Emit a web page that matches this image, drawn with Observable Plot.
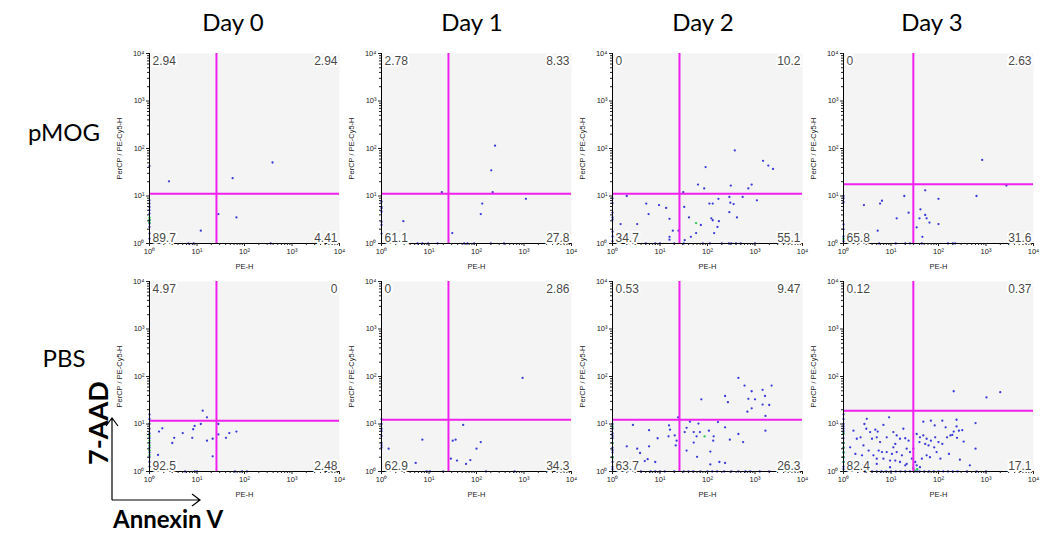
<!DOCTYPE html>
<html><head><meta charset="utf-8">
<script src="https://cdn.jsdelivr.net/npm/d3@7"></script>
<script src="https://cdn.jsdelivr.net/npm/@observablehq/plot@0.6"></script>
<style>
body{margin:0;background:#fff;}
#fig{position:relative;width:1040px;height:535px;overflow:hidden;font-family:Lato,"Open Sans",sans-serif;}
.panel{position:absolute;}
.lab{position:absolute;white-space:nowrap;color:#000;line-height:1;}
</style></head><body><div id="fig"></div>
<script>
// ---- data (log10 exponents) ----
const days = ["Day 0","Day 1","Day 2","Day 3"];
const groups = ["pMOG","PBS"];
const gateX = [[1.41,1.41,1.41,1.47],[1.41,1.41,1.41,1.47]];
const gateY = [[1.05,1.05,1.05,1.25],[1.07,1.09,1.09,1.28]];
const quadUL = [["2.94","2.78","0","0"],["4.97","0","0.53","0.12"]];
const quadUR = [["2.94","8.33","10.2","2.63"],["0","2.86","9.47","0.37"]];
const quadLL = [["89.7","61.1","34.7","65.8"],["92.5","62.9","63.7","82.4"]];
const quadLR = [["4.41","27.8","55.1","31.6"],["2.48","34.3","26.3","17.1"]];
const tickExp = [0,1,2,3,4];

const pMOG_d0 = [[0.41,1.31],[1.75,1.375],[2.59,1.705],[1.45,0.62],[1.83,0.55],[1.08,0.27]];
const pMOG_d0_left = [1.63,0.91,0.84,0.77,0.7,0.63,0.49,0.42,0.35,0.21,0.1];
const pMOG_d0_bottom = [0.82,0.93,2.55];
const pMOG_d0_green = [[0,0.5],[0,0.45],[0,0.55]];

const pMOG_d1 = [[2.39,2.06],[2.31,1.54],[2.34,1.08],[1.27,1.08],[3.04,0.94],[2.12,0.84],[2.09,0.62],[0.46,0.47],[1.49,0.22]];
const pMOG_d1_left = [0.88,0.77,0.74,0.67,0.46,0.39,0.21];
const pMOG_d1_bottom = [0.76,0.86,0.98,1.18,1.74,1.81,1.95,2.3,2.58];
const pMOG_d1_green = [];

const pMOG_d2 = [[2.575,1.96],[1.96,1.61],[3.17,1.74],[3.28,1.64],[3.38,1.57],[1.80,1.24],[1.93,1.16],[2.49,1.22],[2.86,1.16],[2.93,1.24],[1.49,1.08],[0.30,1.00],[2.46,0.98],[2.74,0.98],[3.04,0.91],[0.71,0.84],[0.98,0.81],[2.48,0.86],[2.55,0.83],[2.04,0.84],[2.11,0.84],[2.23,0.94],[1.51,0.77],[0.76,0.62],[1.13,0.75],[1.20,0.52],[1.61,0.55],[2.08,0.53],[2.11,0.49],[2.46,0.66],[2.62,0.55],[2.24,0.47],[1.86,0.39],[0.17,0.41],[0.52,0.41],[1.27,0.27],[1.39,0.27],[1.20,0.14],[1.20,0.08],[1.52,0.07],[1.65,0.14],[1.76,0.22],[2.14,0.22],[2.21,0.35]];
const pMOG_d2_left = [0.95,0.85,0.65,0.55,0.5,0.25,0.15,0.05];
const pMOG_d2_bottom = [0.7,0.9,1.0,1.3,1.5,1.9,2.05,2.3,2.45,2.5,2.6,2.7,3.0];
const pMOG_d2_green = [[1.76,0.43]];

const pMOG_d3 = [[2.92,1.76],[3.43,1.22],[2.80,1.00],[1.72,1.12],[2.0,0.94],[1.28,1.00],[0.81,0.90],[0.77,0.84],[0.43,0.81],[1.37,0.65],[1.62,0.72],[1.72,0.60],[1.75,0.53],[1.60,0.53],[1.12,0.53],[1.81,0.44],[2.0,0.41],[1.54,0.34],[0.72,0.27],[1.66,0.14]];
const pMOG_d3_left = [1.0,0.95,0.87,0.4,0.3,0.15,0.05];
const pMOG_d3_bottom = [0.75,1.1,1.3,1.4,1.65,2.2,2.3,2.35];
const pMOG_d3_green = [[0,0.1]];

const PBS_d0 = [[1.12,1.28],[1.21,1.14],[1.08,1.00],[0.95,0.96],[0.92,0.89],[0.27,0.91],[0.20,0.84],[0.70,0.81],[0.52,0.71],[0.48,0.60],[0.90,0.71],[1.21,0.65],[1.33,0.69],[1.33,0.32],[1.45,1.00],[1.45,0.78],[1.68,0.81],[1.61,0.71],[1.83,0.84],[0.18,0.35]];
const PBS_d0_left = [1.2,1.1,1.0,0.9,0.8,0.7,0.6,0.5,0.4,0.3,0.2,0.1];
const PBS_d0_bottom = [0.75,0.95,1.0,1.8,1.95,2.05];
const PBS_d0_green = [[0,0.75],[0,0.65],[0,0.55],[0,0.45],[0,0.35]];

const PBS_d1 = [[2.97,1.97],[1.72,0.98],[0.86,0.67],[1.50,0.65],[1.56,0.67],[2.09,0.62],[2.0,0.48],[0.15,0.48],[1.46,0.27],[1.59,0.23],[1.87,0.24],[1.78,0.16],[0.72,0.18]];
const PBS_d1_left = [1.1,1.0,0.9,0.85,0.75,0.6,0.55,0.5];
const PBS_d1_bottom = [0.95,1.02,1.3,2.2,2.8];
const PBS_d1_green = [];

const PBS_d2 = [[2.65,1.97],[2.78,1.81],[2.93,1.69],[3.16,1.72],[3.35,1.81],[2.37,1.59],[2.86,1.53],[3.00,1.52],[3.21,1.59],[1.87,1.52],[2.43,1.46],[3.16,1.41],[3.30,1.40],[2.93,1.33],[2.84,1.26],[3.22,1.17],[1.38,1.14],
  [0.43,0.98],[0.77,0.87],[0.95,0.70],[1.19,0.97],[1.21,0.88],[1.18,0.74],[1.31,0.76],[1.35,0.65],[1.33,0.55],[1.52,0.83],[1.56,0.92],[1.63,1.05],[1.81,1.01],[1.71,0.83],[1.84,0.83],[1.77,0.74],[1.71,0.61],[2.03,0.86],[2.13,0.74],[2.12,0.65],[2.22,1.04],[2.37,0.93],[2.47,0.67],[2.65,0.79],[2.75,0.62],[3.22,0.86],[0.30,0.53],[0.52,0.48],[0.58,0.39],[0.77,0.53],[1.56,0.44],[1.78,0.31],[2.06,0.42],[0.74,0.26],[0.68,0.22],[0.90,0.20],[2.25,0.20],[2.06,0.15],[2.37,0.18]];
const PBS_d2_left = [1.0,0.9,0.8,0.75,0.7,0.6,0.5,0.45,0.4,0.3,0.2,0.1,0.05];
const PBS_d2_bottom = [0.6,0.8,0.9,1.0,1.1,1.3,1.5,1.6,1.7,1.85,2.0,2.1,2.2,2.35,2.5,2.65,2.8,2.9,3.1,3.3];
const PBS_d2_green = [[0,0.95],[0,0.6],[0,0.3],[1.94,0.74]];

const PBS_d3 = [[2.32,1.69],[3.01,1.56],[3.30,1.67],
  [0.49,1.11],[0.96,1.14],[1.68,1.05],[1.84,1.07],[1.92,0.97],[0.21,0.86],[0.44,1.00],[0.48,0.90],[0.56,0.83],[0.67,0.88],[0.72,0.84],[0.84,0.98],[1.05,0.83],[1.12,0.76],[1.19,0.69],[1.30,0.70],[1.37,0.65],[1.26,0.90],[0.28,0.69],[0.36,0.72],[0.60,0.69],[0.70,0.72],[0.77,0.62],[0.91,0.72],[1.09,0.58],[1.54,0.79],[1.61,0.72],[1.68,0.76],[1.75,0.69],[1.84,0.65],[1.93,0.72],[2.00,0.62],[1.72,0.58],[1.60,0.62],[1.79,0.55],[1.91,0.51],[0.14,0.51],[0.42,0.55],[0.53,0.44],[0.74,0.44],[0.81,0.41],[0.91,0.41],[1.05,0.51],[1.02,0.37],[1.12,0.41],[1.23,0.34],[1.33,0.48],[1.40,0.41],[1.47,0.48],[0.25,0.37],[0.39,0.34],[0.63,0.34],[0.70,0.27],[0.84,0.27],[0.98,0.23],[1.09,0.23],[1.19,0.20],[1.30,0.13],[1.44,0.27],[1.51,0.20],[1.54,0.13],[1.65,0.27],[1.75,0.34],[1.82,0.30],[1.96,0.41],[2.04,0.27],[0.42,0.13],[0.70,0.16],[0.98,0.09],[1.33,0.16],[1.61,0.09],[1.47,0.07],
  [2.08,1.07],[2.38,1.09],[2.78,1.02],[2.15,0.93],[2.38,0.95],[2.43,0.86],[2.50,0.87],[2.32,0.84],[2.18,0.72],[2.25,0.76],[2.29,0.77],[2.39,0.71],[2.53,0.63],[2.08,0.58],[2.78,0.48],[2.22,0.37],[2.45,0.25],[2.66,0.13]];
const PBS_d3_left = [1.2,1.1,1.0,0.95,0.9,0.85,0.8,0.7,0.6,0.5,0.4,0.3,0.2,0.1,0.05];
const PBS_d3_bottom = [0.3,0.45,0.6,0.7,0.8,0.9,1.0,1.1,1.2,1.3,1.4,1.5,1.55,1.6,1.7,1.8,1.9,2.0,2.1,2.2,2.3,2.4,2.6,2.8,3.0];
const PBS_d3_green = [[0,0.2],[0,0.3],[0,0.4],[0,0.5],[0,0.6],[0,0.8],[1.5,0.02],[1.55,0.05]];

const panelData = [
  [[pMOG_d0,pMOG_d0_left,pMOG_d0_bottom,pMOG_d0_green],[pMOG_d1,pMOG_d1_left,pMOG_d1_bottom,pMOG_d1_green],[pMOG_d2,pMOG_d2_left,pMOG_d2_bottom,pMOG_d2_green],[pMOG_d3,pMOG_d3_left,pMOG_d3_bottom,pMOG_d3_green]],
  [[PBS_d0,PBS_d0_left,PBS_d0_bottom,PBS_d0_green],[PBS_d1,PBS_d1_left,PBS_d1_bottom,PBS_d1_green],[PBS_d2,PBS_d2_left,PBS_d2_bottom,PBS_d2_green],[PBS_d3,PBS_d3_left,PBS_d3_bottom,PBS_d3_green]]
];

// ---- layout ----
const plotLeft = [149,381,612,843];
const plotTop = [53,281];
const PW = 190, PH = 190, ML = 42, MR = 6, MT = 10, MB = 32;
const SUP = "⁰¹²³⁴";
const majors = tickExp.map(e => 10 ** e);
const minors = [];
for (let d = 0; d < 4; d++) for (let k = 2; k <= 9; k++) minors.push(k * 10 ** d);

const fig = document.getElementById("fig");

function makePanel(r, c) {
  const [pts, left, bottom, green] = panelData[r][c];
  const toXY = ([a, b]) => ({x: 10 ** a, y: 10 ** b});
  const blue = pts.map(toXY)
    .concat(left.map(b => ({x: 1, y: 10 ** b})))
    .concat(bottom.map(a => ({x: 10 ** a, y: 1})));
  const greens = green.map(toXY);
  const qfont = {fontSize: 12, fill: "#4a4a4a", stroke: "white", strokeWidth: 4, fontFamily: "Liberation Sans, Arial, sans-serif"};
  const magenta = "#f020ee";
  const p = Plot.plot({
    width: ML + PW + MR, height: MT + PH + MB,
    marginLeft: ML, marginRight: MR, marginTop: MT, marginBottom: MB,
    x: {type: "log", domain: [1, 1e4]},
    y: {type: "log", domain: [1, 1e4]},
    style: {background: "transparent", overflow: "visible", fontFamily: "Liberation Sans, Arial, sans-serif", color: "#222"},
    marks: [
      Plot.frame({fill: "#f4f4f4", stroke: "none"}),
      Plot.dot(blue, {x: "x", y: "y", r: 1.15, fill: "#3a3ad8", stroke: "none"}),
      Plot.dot(greens, {x: "x", y: "y", r: 1.2, fill: "#33cc55", stroke: "none"}),
      Plot.ruleX([10 ** gateX[r][c]], {stroke: magenta, strokeWidth: 2}),
      Plot.ruleY([10 ** gateY[r][c]], {stroke: magenta, strokeWidth: 2}),
      Plot.ruleX([1], {stroke: "#000", strokeWidth: 1}),
      Plot.ruleY([1], {stroke: "#000", strokeWidth: 1}),
      Plot.axisY(majors, {tickSize: 3, tickPadding: 2, fontSize: 7.5, tickFormat: d => "10" + SUP[Math.round(Math.log10(d))],
        label: "PerCP / PE-Cy5-H", labelAnchor: "center", labelOffset: 33, labelArrow: "none"}),
      Plot.axisY(minors, {tickSize: 2, tickFormat: () => "", label: null}),
      Plot.axisX(majors, {tickSize: 3, tickPadding: 2, fontSize: 7.5, tickFormat: d => "10" + SUP[Math.round(Math.log10(d))],
        label: "PE-H", labelAnchor: "center", labelOffset: 25, labelArrow: "none"}),
      Plot.axisX(minors, {tickSize: 2, tickFormat: () => "", label: null}),
      Plot.text([quadUL[r][c]], {text: d => d, frameAnchor: "top-left", dx: 3, dy: 3, ...qfont}),
      Plot.text([quadUR[r][c]], {text: d => d, frameAnchor: "top-right", dx: -2, dy: 3, ...qfont}),
      Plot.text([quadLL[r][c]], {text: d => d, frameAnchor: "bottom-left", dx: 3, dy: -2, ...qfont}),
      Plot.text([quadLR[r][c]], {text: d => d, frameAnchor: "bottom-right", dx: -2, dy: -2, ...qfont})
    ]
  });
  p.classList.add("panel");
  p.style.left = (plotLeft[c] - ML) + "px";
  p.style.top = (plotTop[r] - MT) + "px";
  fig.appendChild(p);
}
for (let r = 0; r < 2; r++) for (let c = 0; c < 4; c++) makePanel(r, c);

// ---- titles and annotations ----
const dayX = [233, 472, 703, 932];
days.forEach((d, i) => {
  const el = document.createElement("div");
  el.className = "lab"; el.textContent = d;
  el.style.cssText += `left:${dayX[i]}px;top:10px;font-size:24px;transform:translateX(-50%);`;
  fig.appendChild(el);
});
const grpPos = [[64, 120], [64, 346]];
groups.forEach((g, i) => {
  const el = document.createElement("div");
  el.className = "lab"; el.textContent = g;
  el.style.cssText += `left:${grpPos[i][0]}px;top:${grpPos[i][1]}px;font-size:24px;transform:translateX(-50%);`;
  fig.appendChild(el);
});
const yA = document.createElement("div");
yA.className = "lab"; yA.textContent = "7-AAD";
yA.style.cssText += "left:97px;top:423px;font-size:27px;font-weight:bold;transform:translate(-50%,-50%) rotate(-90deg);";
fig.appendChild(yA);
const xA = document.createElement("div");
xA.className = "lab"; xA.textContent = "Annexin V";
xA.style.cssText += "left:113px;top:507px;font-size:24px;font-weight:bold;";
fig.appendChild(xA);

const svg = d3.select(fig).append("svg").attr("width", 1040).attr("height", 535)
  .style("position", "absolute").style("left", 0).style("top", 0).style("pointer-events", "none");
const g = svg.append("g").attr("fill", "none").attr("stroke", "#000").attr("stroke-width", 1.2);
g.append("path").attr("d", "M112,500V418M106,426L112,418L118,426");
g.append("path").attr("d", "M112,500H200M192,494L200,500L192,506");
</script></body></html>
